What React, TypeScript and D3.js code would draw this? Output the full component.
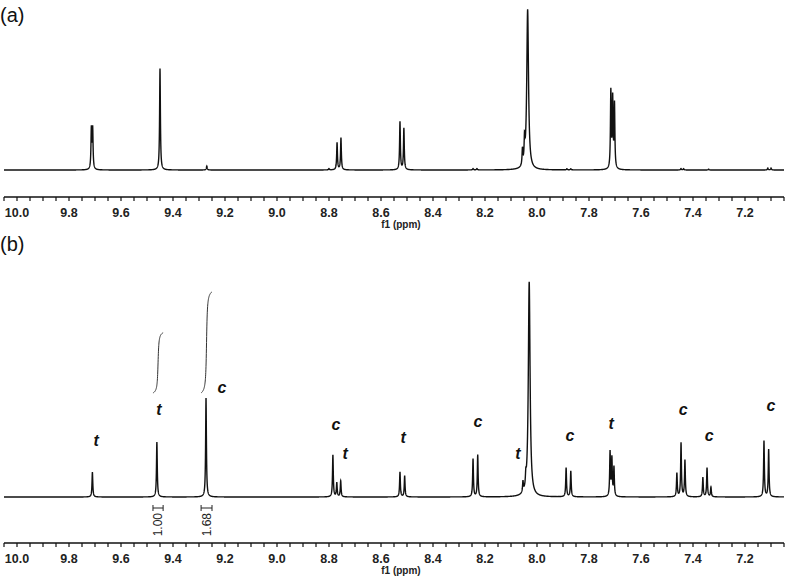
import React from 'react';
import * as d3 from 'd3';

// (a) peak list: chemical shift (ppm) and relative intensity (tallest = 100)
const peaksAPpm = [9.714, 9.709, 9.45, 9.27, 8.8, 8.769, 8.754, 8.527, 8.512, 8.246, 8.231, 8.056, 8.048, 8.036, 7.885, 7.87, 7.716, 7.709, 7.702, 7.446, 7.436, 7.34, 7.112, 7.1];
const peaksAHeight = [25, 25, 63.5, 2.5, 0.8, 17, 20, 30, 26, 0.9, 0.9, 10, 14, 100, 0.7, 0.7, 48, 43, 40, 0.9, 0.8, 0.5, 1.2, 1.2];

// (b) peak list
const peaksBPpm = [9.71, 9.462, 9.273, 8.785, 8.77, 8.755, 8.527, 8.509, 8.246, 8.228, 8.054, 8.043, 8.03, 7.888, 7.87, 7.719, 7.712, 7.704, 7.462, 7.446, 7.431, 7.362, 7.346, 7.331, 7.127, 7.109];
const peaksBHeight = [11.6, 25.6, 46, 19.5, 6.5, 7.4, 11.6, 9.8, 17.7, 19.5, 5, 5, 100, 13.5, 12, 20.5, 17.5, 13.5, 11, 25, 17, 9, 13.5, 4.5, 26, 22];

// assignments in (b): label, ppm, baseline height
const labelText = ['t', 't', 'c', 'c', 't', 't', 'c', 't', 'c', 't', 'c', 'c', 'c'];
const labelPpm = [9.696, 9.454, 9.212, 8.773, 8.738, 8.515, 8.227, 8.073, 7.873, 7.715, 7.438, 7.338, 7.1];
const labelHeight = [23.7, 38.1, 48.4, 31.2, 17.7, 25.1, 32.6, 17.7, 26, 31.6, 38.1, 26, 40];

// integrals in (b)
const integralFrom = [9.477, 9.292];
const integralTo = [9.438, 9.25];
const integralValues = ['1.00', '1.68'];
const integralAmount = [1.0, 1.68];

const tickLabels = ['10.0', '9.8', '9.6', '9.4', '9.2', '9.0', '8.8', '8.6', '8.4', '8.2', '8.0', '7.8', '7.6', '7.4', '7.2'];

const W = 787;
const H = 578;
const LW = 0.0018; // lorentzian half width (ppm)
const MAIN_W = 0.004;

const x = d3.scaleLinear().domain([10.05, 7.05]).range([4, 784]);
const yA = d3.scaleLinear().domain([0, 100]).range([170, 10]);
const yB = d3.scaleLinear().domain([0, 100]).range([497, 282]);

const spectrum = (ppms: number[], hs: number[]) => {
  const grid = d3.range(0, 7501).map((i) => 10.05 - i * 0.0004).concat(ppms).sort((a, b) => b - a);
  return grid.map((p) => {
    let v = 0;
    ppms.forEach((p0, i) => {
      const w = hs[i] >= 100 ? MAIN_W : LW;
      v += (hs[i] * w * w) / ((p - p0) * (p - p0) + w * w);
    });
    return [p, v] as [number, number];
  });
};

const Axis = ({ y0 }: { y0: number }) => {
  const ticks = d3.range(0, 61).map((i) => 10.05 - i * 0.05);
  return (
    <g>
      <line x1={x(10.05)} x2={x(7.05)} y1={y0} y2={y0} stroke="#111" strokeWidth={1.4} />
      {ticks.map((t, i) => (
        <line key={i} x1={x(t)} x2={x(t)} y1={y0} y2={y0 + 4} stroke="#111" strokeWidth={1.2} />
      ))}
      {tickLabels.map((t) => (
        <text key={t} x={x(+t)} y={y0 + 20} textAnchor="middle" fontSize={12.5} fontWeight="bold"
          fontFamily="Liberation Sans, Arial, sans-serif" fill="#222">{t}</text>
      ))}
      <text x={401} y={y0 + 31} textAnchor="middle" fontSize={10} fontWeight="bold"
        fontFamily="Liberation Sans, Arial, sans-serif" fill="#222">f1 (ppm)</text>
    </g>
  );
};

export default function App() {
  const lineA = d3.line<[number, number]>().x((d) => x(d[0])).y((d) => yA(d[1]));
  const lineB = d3.line<[number, number]>().x((d) => x(d[0])).y((d) => yB(d[1]));
  const dataA = spectrum(peaksAPpm, peaksAHeight);
  const dataB = spectrum(peaksBPpm, peaksBHeight);

  const integralBase = 48.4; // intensity units in (b)
  const perUnit = 28;

  const integralPath = (i: number) => {
    const p1 = integralFrom[i];
    const p2 = integralTo[i];
    const pc = (p1 + p2) / 2;
    const w = 0.0025;
    const f = (p: number) => Math.atan((pc - p) / w);
    const pts = d3.range(0, 101).map((k) => {
      const p = p1 + ((p2 - p1) * k) / 100;
      const t = (f(p) - f(p1)) / (f(p2) - f(p1));
      return [p, integralBase + t * integralAmount[i] * perUnit] as [number, number];
    });
    return lineB(pts);
  };

  return (
    <svg width={W} height={H} style={{ position: 'absolute', left: 0, top: 0, background: '#fff' }}>
      <rect width={W} height={H} fill="#fff" />
      <text x={0} y={22} fontSize={20} fontFamily="Liberation Sans, Arial, sans-serif" fill="#111">(a)</text>
      <path d={lineA(dataA) || ''} fill="none" stroke="#111" strokeWidth={1.4} />
      <Axis y0={197} />

      <text x={0} y={251} fontSize={20} fontFamily="Liberation Sans, Arial, sans-serif" fill="#111">(b)</text>
      <path d={lineB(dataB) || ''} fill="none" stroke="#111" strokeWidth={1.4} />
      {labelText.map((t, i) => (
        <text key={i} x={x(labelPpm[i])} y={yB(labelHeight[i])} textAnchor="middle" fontSize={16}
          fontWeight="bold" fontStyle="italic" fontFamily="Liberation Sans, Arial, sans-serif" fill="#111">{t}</text>
      ))}
      {integralValues.map((v, i) => {
        const xa = x(integralFrom[i]);
        const xb = x(integralTo[i]);
        const xm = (xa + xb) / 2;
        return (
          <g key={v}>
            <path d={integralPath(i) || ''} fill="none" stroke="#333" strokeWidth={1} />
            <line x1={xa} x2={xb} y1={508} y2={508} stroke="#222" strokeWidth={1} />
            <line x1={xa} x2={xa} y1={505} y2={511} stroke="#222" strokeWidth={1} />
            <line x1={xb} x2={xb} y1={505} y2={511} stroke="#222" strokeWidth={1} />
            <text transform={`translate(${xm + 4},${513}) rotate(-90)`} textAnchor="end" fontSize={12}
              fontFamily="Liberation Sans, Arial, sans-serif" fill="#222">{v}</text>
          </g>
        );
      })}
      <Axis y0={543} />
    </svg>
  );
}
